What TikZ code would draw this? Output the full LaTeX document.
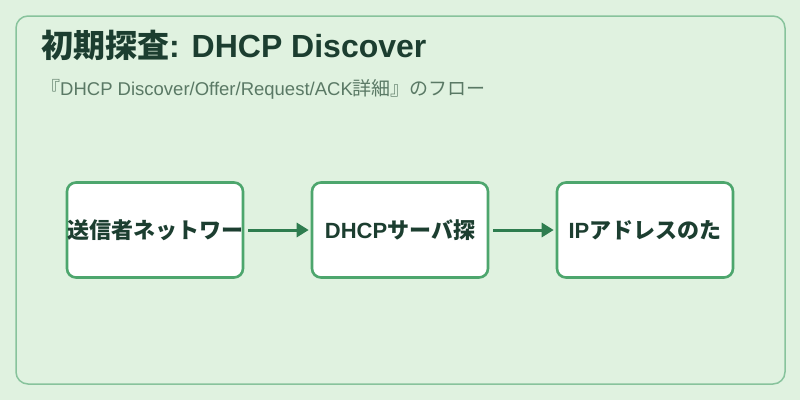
\documentclass[tikz,border=0pt]{standalone}
\usepackage{fontspec}
\setmainfont{Noto Sans CJK JP}
\newfontfamily\lat{Liberation Sans}
\usetikzlibrary{arrows.meta}
\definecolor{bg}{HTML}{E0F2E0}
\definecolor{frame}{HTML}{88C39C}
\definecolor{boxline}{HTML}{4DA66D}
\definecolor{arrowc}{HTML}{2E7D4F}
\definecolor{titlec}{HTML}{1C3E30}
\definecolor{subc}{HTML}{5A7965}
\tikzset{
  stepbox/.style={draw=boxline, line width=2.6pt, fill=white, rounded corners=9pt, minimum width=176pt, minimum height=95pt, inner sep=0pt},
  boxtext/.style={font=\fontsize{22}{26}\selectfont\bfseries, text=titlec},
  flow/.style={draw=arrowc, line width=3pt, -{Triangle[length=12pt,width=14pt]}}
}
\begin{document}
\begin{tikzpicture}[x=1pt,y=-1pt]
\useasboundingbox (0,0) rectangle (800,400);
\fill[bg] (0,0) rectangle (800,400);
\draw[frame, line width=1.5pt, rounded corners=12pt] (16,16) rectangle (785,384);
\node[anchor=base west, inner sep=0pt, font=\fontsize{32}{36}\selectfont\bfseries, text=titlec] (title) at (41,57.5) {初期探査{\lat: DHCP Discover}};
\node[anchor=base west, inner sep=0pt, font=\fontsize{19}{22}\selectfont, text=subc] (sub) at (41,95) {『{\lat\fontsize{18.5}{22}\selectfont DHCP Discover/Offer/Request/ACK}詳細』のフロー};
\node[stepbox] (b1) at (155,230) {};
\node[stepbox] (b2) at (400,230) {};
\node[stepbox] (b3) at (645,230) {};
\node[boxtext] (t1) at (155,230) {送信者ネットワー};
\node[boxtext] (t2) at (400,230) {{\lat DHCP}サーバ探};
\node[boxtext] (t3) at (645,230) {{\lat IP}アドレスのた};
\draw[flow] ([xshift=4pt]b1.east) -- ([xshift=-2pt]b2.west);
\draw[flow] ([xshift=4pt]b2.east) -- ([xshift=-2pt]b3.west);
\end{tikzpicture}
\end{document}
